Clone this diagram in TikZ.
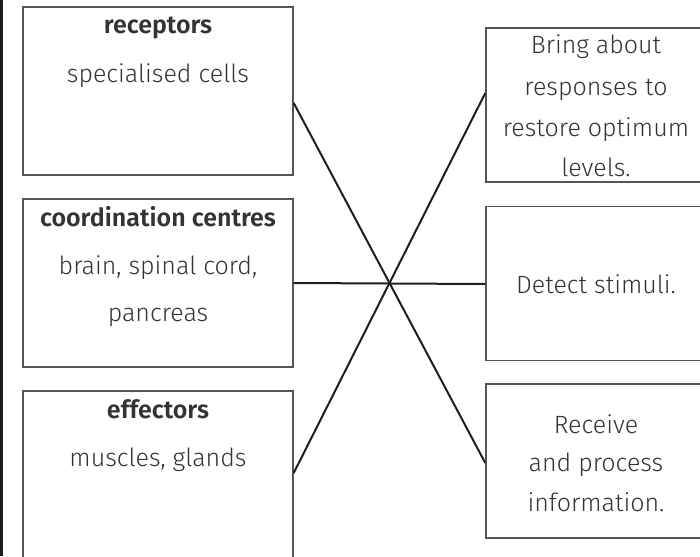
\documentclass[tikz,border=0pt]{standalone}
\usepackage{fontspec}
\setmainfont{Fira Sans}[UprightFont=* Light,BoldFont=* SemiBold]
\definecolor{txt}{HTML}{333333}
\definecolor{frame}{HTML}{555555}
\definecolor{conn}{HTML}{1E1E1E}
\begin{document}
\begin{tikzpicture}[x=1pt,y=-1pt,
  box/.style={draw=frame,line width=1.4pt,inner sep=0pt,minimum width=270pt,minimum height=168pt},
  rbox/.style={draw=frame,line width=1.4pt,inner sep=0pt,minimum width=220pt,minimum height=154pt},
  lbl/.style={text=txt,inner sep=0pt,anchor=base,font=\fontsize{25}{29}\selectfont},
  head/.style={lbl,font=\fontsize{25}{29}\selectfont\bfseries},
  conn/.style={draw=conn,line width=2pt}]
\useasboundingbox (0,0) rectangle (700,556);
\clip (0,0) rectangle (700,556);
\draw[draw=conn,line width=2.2pt] (1.5,0) -- (1.5,556);
% left boxes
\node[box] (l1) at (158,91) {};
\node[box] (l2) at (158,283) {};
\node[box] (l3) at (158,475) {};
% right boxes
\node[rbox] (r1) at (596,105) {};
\node[rbox] (r2) at (596,283.5) {};
\node[rbox] (r3) at (596,461) {};
% left texts
\node[head] (t1a) at (158,34) {receptors};
\node[lbl] (t1b) at (158,83) {specialised cells};
\node[head] (t2a) at (158,226) {coordination centres};
\node[lbl] (t2b) at (158,274) {brain, spinal cord,};
\node[lbl] (t2c) at (158,321) {pancreas};
\node[head] (t3a) at (158,418) {effectors};
\node[lbl] (t3b) at (158,466) {muscles, glands};
% right texts
\node[lbl] (s1a) at (596,54) {Bring about};
\node[lbl] (s1b) at (596,96) {responses to};
\node[lbl] (s1c) at (596,136) {restore optimum};
\node[lbl] (s1d) at (596,176) {levels.};
\node[lbl] (s2a) at (596,293) {Detect stimuli.};
\node[lbl] (s3a) at (596,433) {Receive};
\node[lbl] (s3b) at (596,471) {and process};
\node[lbl] (s3c) at (596,511) {information.};
% connectors
\draw[conn] ([yshift=-12pt]l1.east) -- ([yshift=-2pt]r3.west);
\draw[conn] (l2.east) -- ([yshift=-0.5pt]r2.west);
\draw[conn] ([yshift=2pt]l3.east) -- ([yshift=12pt]r1.west);
\end{tikzpicture}
\end{document}
